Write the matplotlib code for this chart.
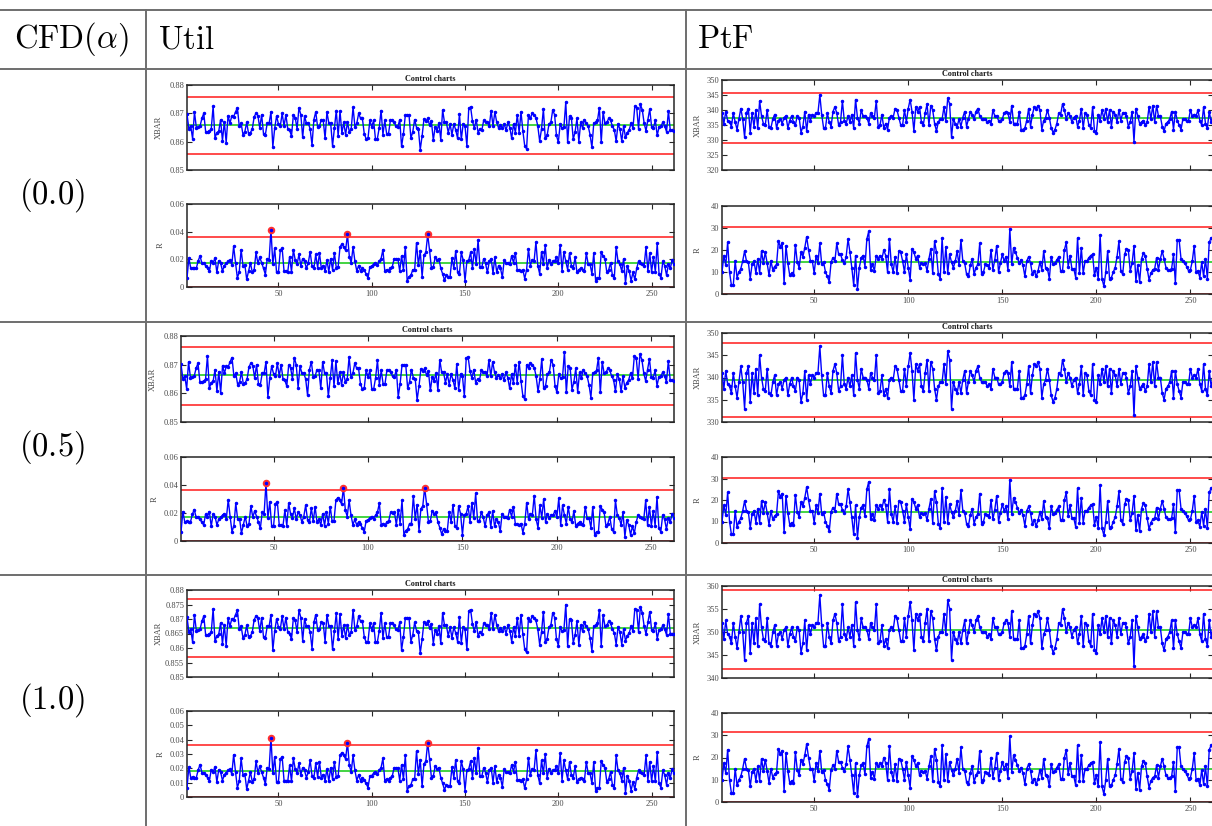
import numpy as np
import matplotlib
matplotlib.use('Agg')
import matplotlib.pyplot as plt
from matplotlib.lines import Line2D
from matplotlib.ticker import FixedLocator, FuncFormatter

# ---------------- data ----------------
row_labels = ['(0.0)', '(0.5)', '(1.0)']
col_labels = ['Util', 'PtF']
x_ticks = [50, 100, 150, 200, 250]

util_xbar_00 = [
 .8697,.8645,.8655,.8610,.8705,.8650,.8652,.8655,.8683,.8700,
 .8635,.8635,.8637,.8645,.8725,.8613,.8632,.8637,.8677,.8603,
 .8670,.8597,.8692,.8665,.8690,.8688,.8705,.8720,.8655,.8665,
 .8625,.8635,.8668,.8628,.8632,.8645,.8688,.8700,.8692,.8648,
 .8695,.8628,.8625,.8665,.8665,.8705,.8582,.8648,.8690,.8663,
 .8655,.8700,.8655,.8695,.8645,.8640,.8620,.8693,.8685,.8645,
 .8720,.8695,.8615,.8690,.8665,.8665,.8645,.8588,.8678,.8705,
 .8652,.8655,.8678,.8675,.8612,.8705,.8665,.8665,.8585,.8648,
 .8710,.8620,.8708,.8630,.8668,.8625,.8668,.8635,.8645,.8722,
 .8652,.8665,.8700,.8682,.8682,.8628,.8610,.8612,.8675,.8652,
 .8675,.8610,.8610,.8648,.8710,.8625,.8675,.8628,.8628,.8675,
 .8675,.8668,.8655,.8652,.8678,.8583,.8628,.8693,.8695,.8693,
 .8612,.8635,.8678,.8650,.8645,.8572,.8620,.8680,.8672,.8682,
 .8658,.8672,.8605,.8652,.8638,.8665,.8607,.8712,.8668,.8668,
 .8632,.8662,.8625,.8662,.8642,.8612,.8698,.8608,.8662,.8655,
 .8585,.8718,.8722,.8672,.8648,.8678,.8632,.8645,.8640,.8675,
 .8668,.8670,.8655,.8710,.8655,.8705,.8668,.8648,.8660,.8648,
 .8662,.8640,.8668,.8650,.8612,.8662,.8632,.8695,.8632,.8705,
 .8638,.8585,.8575,.8695,.8682,.8700,.8695,.8685,.8655,.8602,
 .8645,.8715,.8612,.8622,.8662,.8668,.8712,.8695,.8622,.8598,
 .8662,.8648,.8652,.8740,.8598,.8690,.8685,.8608,.8635,.8682,
 .8600,.8668,.8648,.8678,.8665,.8655,.8625,.8580,.8665,.8668,
 .8675,.8720,.8598,.8705,.8665,.8668,.8682,.8675,.8655,.8642,
 .8602,.8662,.8645,.8602,.8655,.8615,.8632,.8642,.8665,.8648,
 .8725,.8720,.8645,.8732,.8712,.8665,.8638,.8678,.8715,.8652,
 .8650,.8675,.8622,.8652,.8655,.8668,.8655,.8635,.8708,.8640,.8640,.8638]

util_xbar_05 = [
 .8702,.8650,.8660,.8615,.8710,.8655,.8657,.8660,.8688,.8705,
 .8640,.8640,.8642,.8650,.8730,.8618,.8637,.8642,.8682,.8608,
 .8675,.8602,.8697,.8670,.8695,.8693,.8710,.8725,.8660,.8670,
 .8630,.8640,.8673,.8633,.8637,.8650,.8693,.8705,.8697,.8653,
 .8700,.8633,.8630,.8670,.8670,.8710,.8587,.8653,.8695,.8668,
 .8660,.8705,.8660,.8700,.8650,.8645,.8625,.8698,.8690,.8650,
 .8725,.8700,.8620,.8695,.8670,.8670,.8650,.8593,.8683,.8710,
 .8657,.8660,.8683,.8680,.8617,.8710,.8670,.8670,.8590,.8653,
 .8715,.8625,.8713,.8635,.8673,.8630,.8673,.8640,.8650,.8727,
 .8657,.8670,.8705,.8687,.8687,.8633,.8615,.8617,.8680,.8657,
 .8680,.8615,.8615,.8653,.8715,.8630,.8680,.8633,.8633,.8680,
 .8680,.8673,.8660,.8657,.8683,.8588,.8633,.8698,.8700,.8698,
 .8617,.8640,.8683,.8655,.8650,.8577,.8625,.8685,.8677,.8687,
 .8663,.8677,.8610,.8657,.8643,.8670,.8612,.8717,.8673,.8673,
 .8637,.8667,.8630,.8667,.8647,.8617,.8703,.8613,.8667,.8660,
 .8590,.8723,.8727,.8677,.8653,.8683,.8637,.8650,.8645,.8680,
 .8673,.8675,.8660,.8715,.8660,.8710,.8673,.8653,.8665,.8653,
 .8667,.8645,.8673,.8655,.8617,.8667,.8637,.8700,.8637,.8710,
 .8643,.8590,.8580,.8700,.8687,.8705,.8700,.8690,.8660,.8607,
 .8650,.8720,.8617,.8627,.8667,.8673,.8717,.8700,.8627,.8603,
 .8667,.8653,.8657,.8745,.8603,.8695,.8690,.8613,.8640,.8687,
 .8605,.8673,.8653,.8683,.8670,.8660,.8630,.8585,.8670,.8673,
 .8680,.8725,.8603,.8710,.8670,.8673,.8687,.8680,.8660,.8647,
 .8607,.8667,.8650,.8607,.8660,.8620,.8637,.8647,.8670,.8653,
 .8730,.8725,.8650,.8737,.8717,.8670,.8643,.8683,.8720,.8657,
 .8655,.8680,.8627,.8657,.8660,.8673,.8660,.8640,.8713,.8645,.8645,.8643]

util_xbar_10 = [
 .8707,.8655,.8665,.8620,.8715,.8660,.8662,.8665,.8693,.8710,
 .8645,.8645,.8647,.8655,.8735,.8623,.8642,.8647,.8687,.8613,
 .8680,.8607,.8702,.8675,.8700,.8698,.8715,.8730,.8665,.8675,
 .8635,.8645,.8678,.8638,.8642,.8655,.8698,.8710,.8702,.8658,
 .8705,.8638,.8635,.8675,.8675,.8715,.8592,.8658,.8700,.8673,
 .8665,.8710,.8665,.8705,.8655,.8650,.8630,.8703,.8695,.8655,
 .8730,.8705,.8625,.8700,.8675,.8675,.8655,.8598,.8688,.8715,
 .8662,.8665,.8688,.8685,.8622,.8715,.8675,.8675,.8595,.8658,
 .8720,.8630,.8718,.8640,.8678,.8635,.8678,.8645,.8655,.8732,
 .8662,.8675,.8710,.8692,.8692,.8638,.8620,.8622,.8685,.8662,
 .8685,.8620,.8620,.8658,.8720,.8635,.8685,.8638,.8638,.8685,
 .8685,.8678,.8665,.8662,.8688,.8593,.8638,.8703,.8705,.8703,
 .8622,.8645,.8688,.8660,.8655,.8582,.8630,.8690,.8682,.8692,
 .8668,.8682,.8615,.8662,.8648,.8675,.8617,.8722,.8678,.8678,
 .8642,.8672,.8635,.8672,.8652,.8622,.8708,.8618,.8672,.8665,
 .8595,.8728,.8732,.8682,.8658,.8688,.8642,.8655,.8650,.8685,
 .8678,.8680,.8665,.8720,.8665,.8715,.8678,.8658,.8670,.8658,
 .8672,.8650,.8678,.8660,.8622,.8672,.8642,.8705,.8642,.8715,
 .8648,.8595,.8585,.8705,.8692,.8710,.8705,.8695,.8665,.8612,
 .8655,.8725,.8622,.8632,.8672,.8678,.8722,.8705,.8632,.8608,
 .8672,.8658,.8662,.8750,.8608,.8700,.8695,.8618,.8645,.8692,
 .8610,.8678,.8658,.8688,.8675,.8665,.8635,.8590,.8675,.8678,
 .8685,.8730,.8608,.8715,.8675,.8678,.8692,.8685,.8665,.8652,
 .8612,.8672,.8655,.8612,.8665,.8625,.8642,.8652,.8675,.8658,
 .8735,.8730,.8655,.8742,.8722,.8675,.8648,.8688,.8725,.8662,
 .8660,.8685,.8632,.8662,.8665,.8678,.8665,.8645,.8718,.8650,.8650,.8648]

util_r_00 = [
 .0065,.021,.0135,.014,.0135,.0135,.019,.0225,.017,.017,
 .0155,.0135,.0115,.019,.0175,.021,.0105,.019,.0175,.0115,
 .0155,.017,.0185,.0195,.016,.0295,.0175,.0065,.011,.027,
 .0155,.016,.0055,.0115,.0175,.0105,.0125,.025,.017,.0215,
 .0175,.0135,.009,.0205,.0195,.0415,.0165,.028,.0105,.0105,
 .0265,.028,.0115,.0115,.011,.022,.011,.027,.0195,.0165,
 .0235,.0155,.0205,.0185,.0135,.0175,.0255,.015,.0135,.0235,
 .014,.0245,.0135,.0155,.0115,.0195,.011,.0205,.0125,.0245,
 .014,.0145,.029,.031,.029,.0265,.038,.022,.0175,.029,
 .0185,.0115,.0155,.0115,.0135,.012,.0095,.0065,.0145,.015,
 .0165,.0175,.016,.0185,.0205,.027,.0115,.0125,.0115,.0135,
 .0145,.0205,.02,.0205,.0115,.0225,.0125,.029,.0045,.0075,
 .0085,.0125,.0125,.032,.016,.026,.0075,.023,.025,.038,
 .0265,.0135,.0145,.0215,.0195,.0205,.0135,.0095,.005,.0085,
 .0075,.0075,.021,.0135,.026,.011,.0095,.025,.0195,.0045,
 .0185,.0195,.025,.0135,.0275,.0165,.034,.0145,.0145,.0205,
 .017,.0105,.0185,.0205,.01,.0215,.0105,.0155,.0135,.007,
 .0195,.0175,.0175,.0165,.0225,.0175,.0245,.012,.012,.0115,
 .0125,.006,.0125,.0275,.0155,.0195,.0185,.0325,.0155,.0095,
 .0255,.0165,.030,.0135,.0195,.0165,.0185,.0185,.0215,.017,
 .0305,.0115,.0255,.0185,.0125,.0245,.0155,.0135,.0215,.0105,
 .0125,.0135,.0125,.0115,.0245,.0165,.0165,.0095,.0245,.0045,
 .0065,.0065,.025,.0225,.0205,.0105,.0125,.0175,.0085,.0065,
 .029,.0185,.0165,.0115,.0205,.003,.015,.0115,.0045,.0105,
 .0055,.0135,.0185,.0175,.0165,.0155,.029,.0115,.0245,.011,
 .0215,.011,.0315,.0095,.0065,.0185,.0155,.0085,.0165,.0135,.0195,.0165]
util_r_05 = list(util_r_00)
util_r_10 = list(util_r_00)

ptf_xbar_00 = [
 339,335.5,339.5,336.5,336,334.5,339,336,333.5,337,
 340.5,337,331,339,340.5,332.5,339,334.5,340,334,
 343,338,335.5,335,340,334.5,334,337,338.5,334,
 336.5,337,335.5,337.5,338,334,336.5,338,336,335,
 338,337.5,332.5,334.5,339.5,333,338.5,336.5,338.5,338,
 339,339,345,338.5,334,334,339,336,334.5,339.5,
 341,339,335,336,343,336.5,335.5,338,336,338.5,
 334,343.5,337.5,335.5,340,338,338,337.5,335.5,339,
 338,337.5,343,334.5,335,338.5,334,335.5,333.5,337.5,
 338,337.5,340.5,340,337.5,335,335,340,336,340.5,
 343.5,339.5,333,341,339.5,341,336,335,339,342,
 335,341.5,340,335.5,333,336,337,337,341,336.5,
 344,342,331,337,335.5,334.5,337,334.5,337.5,339.5,
 334.5,337,339.5,338.5,337,339.5,340.5,338,337,337,
 337,336,336.5,335.5,340,338,338,336.5,336.5,337,
 339,339.5,339,336,341.5,335.5,335.5,335.5,339.5,333.5,
 333.5,334,336.5,340.5,334.5,338.5,341,340.5,341.5,340,
 333.5,336.5,337.5,340,337.5,334,332.5,333.5,335.5,339,
 338.5,342,340,337,339,338,336,337.5,338,334.5,
 336.5,340.5,334,339,338.5,335,334,341,333,332.5,
 338.5,336.5,340,337,340.5,336,340,334.5,339.5,338.5,
 336,340,336.5,339,339,338,334.5,336,339.5,329.5,
 340.5,338,335.5,336,336.5,335,336,341,337,341.5,
 336,341.5,338,338,334.5,333,335.5,336,337,339.5,
 333.5,339.5,336.5,335,333.5,337,337,336.5,336.5,340,
 338,338.5,338,340,336.5,335,341,335.5,334,339.5,336,338]

ptf_xbar_05 = [
 341,337.5,341.5,338.5,338,336.5,341,338,335.5,339,
 342.5,339,333,341,342.5,334.5,341,336.5,342,336,
 345,340,337.5,337,342,336.5,336,339,340.5,336,
 338.5,339,337.5,339.5,340,336,338.5,340,338,337,
 340,339.5,334.5,336.5,341.5,335,340.5,338.5,340.5,340,
 341,341,347,340.5,336,336,341,338,336.5,341.5,
 343,341,337,338,345,338.5,337.5,340,338,340.5,
 336,345.5,339.5,337.5,342,340,340,339.5,337.5,341,
 340,339.5,345,336.5,337,340.5,336,337.5,335.5,339.5,
 340,339.5,342.5,342,339.5,337,337,342,338,342.5,
 345.5,341.5,335,343,341.5,343,338,337,341,344,
 337,343.5,342,337.5,335,338,339,339,343,338.5,
 346,344,333,339,337.5,336.5,339,336.5,339.5,341.5,
 336.5,339,341.5,340.5,339,341.5,342.5,340,339,339,
 339,338,338.5,337.5,342,340,340,338.5,338.5,339,
 341,341.5,341,338,343.5,337.5,337.5,337.5,341.5,335.5,
 335.5,336,338.5,342.5,336.5,340.5,343,342.5,343.5,342,
 335.5,338.5,339.5,342,339.5,336,334.5,335.5,337.5,341,
 340.5,344,342,339,341,340,338,339.5,340,336.5,
 338.5,342.5,336,341,340.5,337,336,343,335,334.5,
 340.5,338.5,342,339,342.5,338,342,336.5,341.5,340.5,
 338,342,338.5,341,341,340,336.5,338,341.5,331.5,
 342.5,340,337.5,338,338.5,337,338,343,339,343.5,
 338,343.5,340,340,336.5,335,337.5,338,339,341.5,
 335.5,341.5,338.5,337,335.5,339,339,338.5,338.5,342,
 340,340.5,340,342,338.5,337,343,337.5,336,341.5,338,340]

ptf_xbar_10 = [
 352,348.5,352.5,349.5,349,347.5,352,349,346.5,350,
 353.5,350,344,352,353.5,345.5,352,347.5,353,347,
 356,351,348.5,348,353,347.5,347,350,351.5,347,
 349.5,350,348.5,350.5,351,347,349.5,351,349,348,
 351,350.5,345.5,347.5,352.5,346,351.5,349.5,351.5,351,
 352,352,358,351.5,347,347,352,349,347.5,352.5,
 354,352,348,349,356,349.5,348.5,351,349,351.5,
 347,356.5,350.5,348.5,353,351,351,350.5,348.5,352,
 351,350.5,356,347.5,348,351.5,347,348.5,346.5,350.5,
 351,350.5,353.5,353,350.5,348,348,353,349,353.5,
 356.5,352.5,346,354,352.5,354,349,348,352,355,
 348,354.5,353,348.5,346,349,350,350,354,349.5,
 357,355,344,350,348.5,347.5,350,347.5,350.5,352.5,
 347.5,350,352.5,351.5,350,352.5,353.5,351,350,350,
 350,349,349.5,348.5,353,351,351,349.5,349.5,350,
 352,352.5,352,349,354.5,348.5,348.5,348.5,352.5,346.5,
 346.5,347,349.5,353.5,347.5,351.5,354,353.5,354.5,353,
 346.5,349.5,350.5,353,350.5,347,345.5,346.5,348.5,352,
 351.5,355,353,350,352,351,349,350.5,351,347.5,
 349.5,353.5,347,352,351.5,348,347,354,346,345.5,
 351.5,349.5,353,350,353.5,349,353,347.5,352.5,351.5,
 349,353,349.5,352,352,351,347.5,349,352.5,342.5,
 353.5,351,348.5,349,349.5,348,349,354,350,354.5,
 349,354.5,351,351,347.5,346,348.5,349,350,352.5,
 346.5,352.5,349.5,348,346.5,350,350,349.5,349.5,353,
 351,351.5,351,353,349.5,348,354,348.5,347,352.5,349,351]

ptf_r_00 = [
 10,17.5,13,23.5,10,4,4,15,7.5,10,
 11.5,15,19.5,15,14.5,7,13.5,15,9.5,16,
 9.5,19.5,14,19,14,8.5,15,11,12.5,13.5,
 24,21.5,23,5,22,14,8.5,9.5,8.5,22.5,
 14.5,12,19,17,21,26,20,15,15,9.5,
 17.5,14,23,13.5,14.5,10,8,5.5,14.5,16.5,
 15,23,18,18,15.5,14,17,25,19,12,
 4,17.5,2.5,12,16.5,17.5,12.5,25,28.5,11,
 13.5,10.5,17.5,16,17.5,16,20,17.5,10,25,
 13.5,10,17,9.5,19.5,19,15,10,18,12,
 6.5,20.5,19,16,17.5,12,14,13.5,14,10.5,
 16,20.5,9.5,24,19,9,7,25.5,10,21.5,
 9.5,18,14.5,12,15,19.5,13,24.5,15,14,
 9,8,13,16,9,12,13.5,23,9,10,
 13.5,13,12,20,11,15.5,22,10,14,18,
 15,17,11,29.5,13.5,21,19,16.5,14,15.5,
 13,8,15,17,14,9,10.5,8,10.5,14.5,
 11,19.5,12,11.5,7,17,13.5,14,15.5,17,
 10.5,10.5,20,23.5,12.5,17.5,11.5,11.5,7.5,25.5,
 9.5,21,9.5,15,15,16.5,17.5,18,8.5,12,
 7,27,7,3.5,10,19.5,7,7.5,10,12,
 17,24,10.5,9,18,20.5,20,10.5,14,22,
 6,13,5.5,16,18.5,17.5,11.5,6.5,9.5,11,
 11.5,16.5,11,16,19.5,16,12,11,11,11.5,
 18,5,24.5,24.5,16,15,14,12.5,10.5,11,
 15,22,10,10.5,7.5,14.5,8,16,7,23.5,25.5,24]
ptf_r_05 = list(ptf_r_00)
ptf_r_10 = list(ptf_r_00)

# control limits (LCL, CL, UCL)
util_xbar_limits = [(0.8556, 0.8658, 0.8756), (0.8561, 0.8663, 0.8760), (0.8568, 0.8668, 0.8768)]
util_r_limits = [(0.0, 0.0172, 0.0365), (0.0, 0.0175, 0.0366), (0.0, 0.0178, 0.0366)]
ptf_xbar_limits = [(329.0, 337.4, 345.7), (331.1, 339.4, 347.75), (341.9, 350.5, 359.05)]
ptf_r_limits = [(0.0, 14.4, 30.6), (0.0, 14.3, 30.3), (0.0, 14.9, 31.5)]

util_xbar_ylim = [(0.85, 0.88), (0.85, 0.88), (0.85, 0.88)]
util_xbar_yticks = [[0.85, 0.86, 0.87, 0.88], [0.85, 0.86, 0.87, 0.88],
                    [0.85, 0.855, 0.86, 0.865, 0.87, 0.875, 0.88]]
util_r_ylim = [(0, 0.06)] * 3
util_r_yticks = [[0, 0.02, 0.04, 0.06], [0, 0.02, 0.04, 0.06],
                 [0, 0.01, 0.02, 0.03, 0.04, 0.05, 0.06]]
ptf_xbar_ylim = [(320, 350), (330, 350), (340, 360)]
ptf_xbar_yticks = [[320, 325, 330, 335, 340, 345, 350], [330, 335, 340, 345, 350],
                   [340, 345, 350, 355, 360]]
ptf_r_ylim = [(0, 40)] * 3
ptf_r_yticks = [[0, 10, 20, 30, 40]] * 3

util_xbar = [util_xbar_00, util_xbar_05, util_xbar_10]
util_r = [util_r_00, util_r_05, util_r_10]
ptf_xbar = [ptf_xbar_00, ptf_xbar_05, ptf_xbar_10]
ptf_r = [ptf_r_00, ptf_r_05, ptf_r_10]

# ---------------- layout (pixels) ----------------
W, H = 1212, 826
fig = plt.figure(figsize=(W / 100, H / 100), dpi=100)
plt.rcParams['mathtext.fontset'] = 'cm'
SERIF = ['Liberation Serif', 'DejaVu Serif']

util_boxes = [((187, 85, 674, 170), (187, 204, 674, 287)),
              ((181, 336, 674, 422), (181, 457, 674, 541)),
              ((187, 590, 674, 677), (187, 711, 674, 797))]
ptf_boxes = [((722, 80, 1213, 170), (722, 206, 1213, 294)),
             ((722, 333, 1213, 422), (722, 457, 1213, 543)),
             ((722, 586, 1213, 678), (722, 713, 1213, 802))]


def px_axes(box):
    l, t, r, b = box
    return fig.add_axes([l / W, 1 - b / H, (r - l) / W, (b - t) / H])


def hline(y, x0=0, x1=W):
    fig.add_artist(Line2D([x0 / W, x1 / W], [1 - y / H, 1 - y / H],
                          transform=fig.transFigure, color='#6e6e6e', lw=1.4))


def vline(x, y0=10, y1=H):
    fig.add_artist(Line2D([x / W, x / W], [1 - y0 / H, 1 - y1 / H],
                          transform=fig.transFigure, color='#6e6e6e', lw=1.4))


fmt = FuncFormatter(lambda v, p: '%g' % round(v, 6))


def chart(box, y, limits, ylim, yticks, ylabel, xlabels, ylab_px, title=None):
    ax = px_axes(box)
    l, t, r, b = box
    y = np.asarray(y, dtype=float)
    x = np.arange(1, len(y) + 1)
    lcl, cl, ucl = limits
    ax.axhline(ucl, color='#ff1a1a', lw=1.1, zorder=2)
    ax.axhline(lcl, color='#ff1a1a', lw=1.1, zorder=2)
    ax.axhline(cl, color='#22cc22', lw=1.2, zorder=2)
    ax.plot(x, y, color='#0000ff', lw=1.0, marker='.', ms=3.0, zorder=3)
    out = (y > ucl) | (y < lcl)
    if out.any():
        ax.plot(x[out], y[out], ls='none', marker='o', ms=4.4, mfc='#ff3030',
                mec='#ff3030', zorder=4)
        ax.plot(x[out], y[out], ls='none', marker='.', ms=3.0, color='#0000ff', zorder=5)
    ax.set_xlim(1, 262)
    ax.set_ylim(*ylim)
    ax.xaxis.set_major_locator(FixedLocator(x_ticks))
    ax.yaxis.set_major_locator(FixedLocator(yticks))
    ax.yaxis.set_major_formatter(fmt)
    ax.tick_params(direction='in', top=True, right=True, length=3.4, width=0.8,
                   color='#262626', labelsize=6.0, labelcolor='#4a4a4a', pad=2)
    if not xlabels:
        ax.set_xticklabels([])
    for lab in ax.get_xticklabels() + ax.get_yticklabels():
        lab.set_family(SERIF)
    for s in ax.spines.values():
        s.set_color('#262626')
        s.set_linewidth(1.1)
    ax.set_ylabel(ylabel, family=SERIF, fontsize=6.0, color='#4a4a4a')
    ax.yaxis.set_label_coords((ylab_px - l) / (r - l), 0.5)
    if title:
        ax.text(0.5, 1 + 6.0 / (b - t), title, transform=ax.transAxes, ha='center',
                va='center', family=SERIF, fontsize=5.9, fontweight='bold', color='#1a1a1a')
    return ax


for i in range(3):
    (bx, br) = util_boxes[i]
    chart(bx, util_xbar[i], util_xbar_limits[i], util_xbar_ylim[i], util_xbar_yticks[i],
          'XBAR', False, bx[0] - 24, 'Control charts')
    chart(br, util_r[i], util_r_limits[i], util_r_ylim[i], util_r_yticks[i],
          'R', True, br[0] - 22)
    (px, pr) = ptf_boxes[i]
    chart(px, ptf_xbar[i], ptf_xbar_limits[i], ptf_xbar_ylim[i], ptf_xbar_yticks[i],
          'XBAR', False, px[0] - 20, 'Control charts')
    chart(pr, ptf_r[i], ptf_r_limits[i], ptf_r_ylim[i], ptf_r_yticks[i],
          'R', True, pr[0] - 20)

# ---------------- table frame and text ----------------
hline(10)
hline(68.5)
hline(322)
hline(575)
vline(146)
vline(686)

fig.text(14 / W, 1 - 39 / H, r'$\mathrm{CFD}(\alpha)$', fontsize=23.5, va='center', ha='left')
fig.text(158 / W, 1 - 39 / H, r'$\mathrm{' + col_labels[0] + '}$', fontsize=23.5, va='center', ha='left')
fig.text(697 / W, 1 - 39 / H, r'$\mathrm{' + col_labels[1] + '}$', fontsize=23.5, va='center', ha='left')
for lab, yc in zip(row_labels, [195, 447, 700]):
    fig.text(19 / W, 1 - yc / H, '$' + lab + '$', fontsize=23.5, va='center', ha='left')

fig.savefig('out.png', dpi=100)
